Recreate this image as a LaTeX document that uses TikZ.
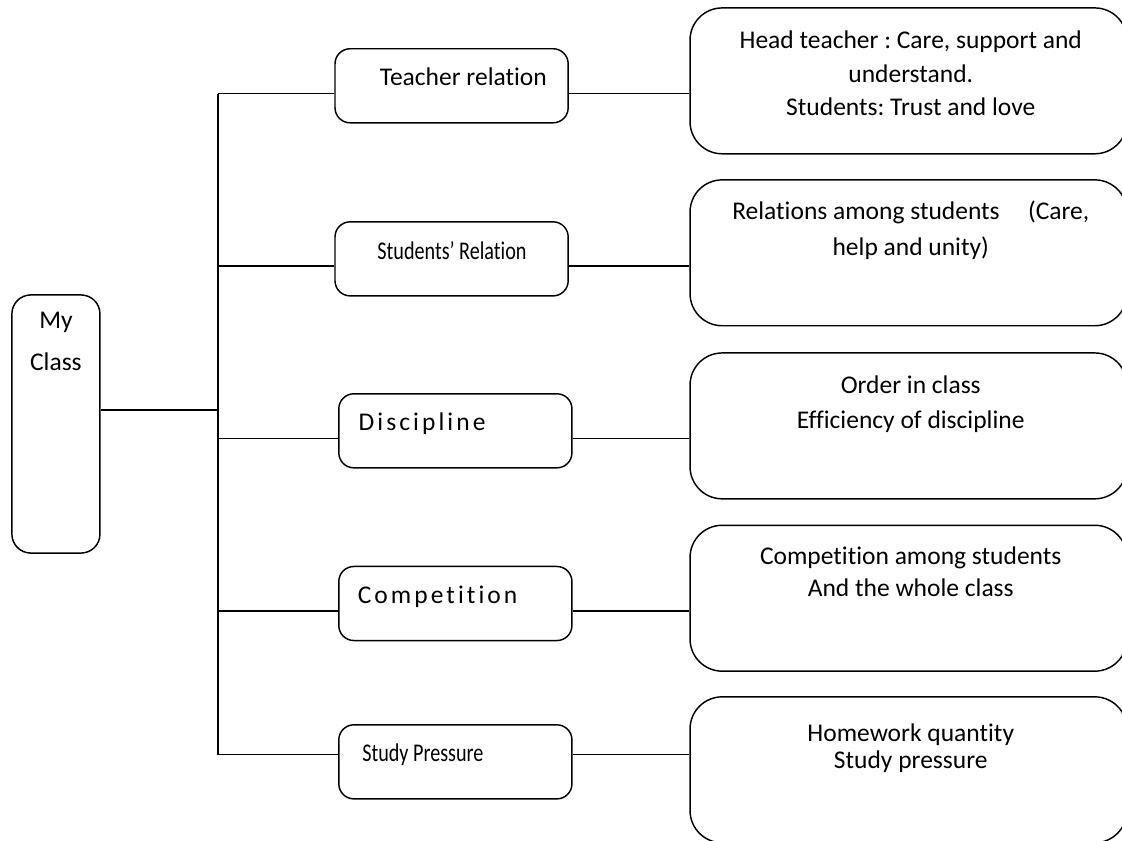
\documentclass[tikz,border=0pt]{standalone}
\usepackage{fontspec}
\setmainfont{Carlito}[Ligatures=NoCommon]
\newfontfamily\narrowfont{Carlito}[FakeStretch=0.79, Ligatures=NoCommon]
\newfontfamily\spacedfont{Carlito}[LetterSpace=12, Ligatures=NoCommon]
\frenchspacing
\usetikzlibrary{positioning}

\begin{document}
\begin{tikzpicture}[line width=1.1pt, font=\fontsize{19.2}{23}\selectfont,
  rootbox/.style={draw, rounded corners=0.5cm, minimum width=2.33cm, minimum height=6.83cm},
  topicbox/.style={draw, rounded corners=0.4cm, minimum width=6.17cm, minimum height=1.96cm},
  notebox/.style={draw, rounded corners=0.85cm, minimum width=11.56cm, minimum height=3.86cm}]

\useasboundingbox (0,0) rectangle (29.69,22.25);
\clip (0,0) rectangle (29.69,22.25);

% root
\node[rootbox] (class) at (1.48,11.03) {};
\node (classtop) at (1.48,13.71) {My};
\node (classbot) at (1.48,12.67) {Class};

% topics
\node[topicbox] (teacher) at (11.95,19.98) {};
\node[topicbox] (students) at (11.95,15.40) {};
\node[topicbox] (discip) at (12.05,10.85) {};
\node[topicbox] (compet) at (12.05,6.28) {};
\node[topicbox] (pressure) at (12.05,2.09) {};

\node (teachertxt) at (12.26,20.22) {Teacher relation};
\node (studentstxt) at (11.96,15.62) {\narrowfont Students’ Relation};
\node (disciptxt) at (11.17,11.05) {\spacedfont Discipline};
\node (compettxt) at (11.58,6.46) {\spacedfont Competition};
\node (pressuretxt) at (11.19,2.28) {\narrowfont Study Pressure};

% notes
\node[notebox] (note1) at (24.04,20.11) {};
\node[notebox] (note2) at (24.04,15.56) {};
\node[notebox] (note3) at (24.04,10.98) {};
\node[notebox] (note4) at (24.04,6.42) {};
\node[notebox] (note5) at (24.04,1.88) {};

\node (note1a) at (24.10,21.14) {Head teacher : Care, support and};
\node (note1b) at (24.10,20.29) {understand.};
\node (note1c) at (24.10,19.42) {Students: Trust and love};

\node (note2a) at (24.10,16.62) {Relations among students\hspace{0.75cm}(Care,};
\node (note2b) at (24.10,15.69) {help and unity)};

\node (note3a) at (24.10,12.07) {Order in class};
\node (note3b) at (24.10,11.09) {Efficiency of discipline};

\node (note4a) at (24.10,7.49) {Competition among students};
\node (note4b) at (24.10,6.69) {And the whole class};

\node (note5a) at (24.10,2.81) {Homework quantity};
\node (note5b) at (24.10,2.09) {Study pressure};

% connectors
\coordinate (trunk) at (5.77,0);
\coordinate (c0) at ([yshift=0.37cm]class.east);
\coordinate (c1) at ([yshift=-0.21cm]teacher.west);
\coordinate (c2) at ([yshift=-0.19cm]students.west);
\coordinate (c3) at ([yshift=-0.21cm]discip.west);
\coordinate (c4) at ([yshift=-0.20cm]compet.west);
\coordinate (c5) at ([yshift=0.19cm]pressure.west);

\draw (c1 -| trunk) -- (c5 -| trunk);
\draw (c0) -- (c0 -| trunk);
\draw (c1) -- (c1 -| trunk);
\draw (c2) -- (c2 -| trunk);
\draw (c3) -- (c3 -| trunk);
\draw (c4) -- (c4 -| trunk);
\draw (c5) -- (c5 -| trunk);

\draw (c1 -| teacher.east) -- (c1 -| note1.west);
\draw (c2 -| students.east) -- (c2 -| note2.west);
\draw (c3 -| discip.east) -- (c3 -| note3.west);
\draw (c4 -| compet.east) -- (c4 -| note4.west);
\draw (c5 -| pressure.east) -- (c5 -| note5.west);
\end{tikzpicture}
\end{document}
